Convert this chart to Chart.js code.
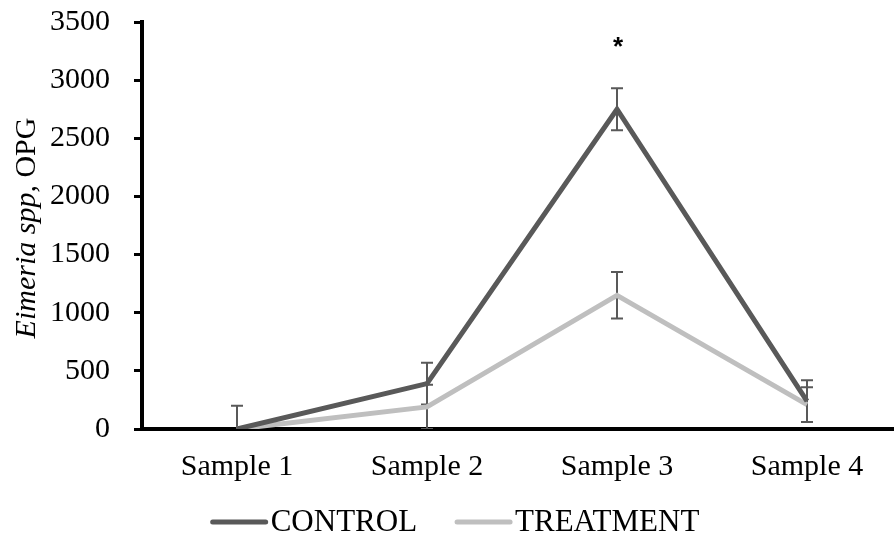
<!DOCTYPE html>
<html>
<head>
<meta charset="utf-8">
<script src="https://cdn.jsdelivr.net/npm/chart.js@4.4.1/dist/chart.umd.min.js"></script>
<style>
  html, body { margin: 0; padding: 0; background: #fff; overflow: hidden; }
  canvas { display: block; }
</style>
</head>
<body>
<canvas id="ctx" width="904" height="540"></canvas>
<script>
"use strict";

const sampleLabels = ["Sample 1", "Sample 2", "Sample 3", "Sample 4"];
const controlValues = [0, 390, 2750, 240];
const controlErrors = [200, 180, 180, 180];
const treatmentValues = [0, 190, 1150, 210];
const treatmentErrors = [0, 190, 200, 150];
const significance = ["", "", "*", ""];
const yMin = 0;
const yMax = 3500;
const yStep = 500;

const serif = "'Liberation Serif', 'Times New Roman', serif";
const darkGrey = "#595959";
const lightGrey = "#bfbfbf";

// error bars sit under the lines, clipped to the plot like in the sheet
const errorBars = {
  id: "errorBars",
  beforeDatasetsDraw(chart) {
    let ctx = chart.ctx;
    let area = chart.chartArea;
    let x = chart.scales.x;
    let y = chart.scales.y;
    ctx.save();
    ctx.beginPath();
    ctx.rect(area.left, area.top - 30, area.right - area.left, area.bottom - area.top + 30);
    ctx.clip();
    ctx.strokeStyle = darkGrey;
    ctx.lineWidth = 2;
    chart.data.datasets.forEach((ds) => {
      ds.data.forEach((v, i) => {
        let err = ds.errors[i];
        if (!err) return;
        let px = x.getPixelForValue(i);
        let top = y.getPixelForValue(v + err);
        let bot = y.getPixelForValue(v - err);
        ctx.beginPath();
        ctx.moveTo(px, top);
        ctx.lineTo(px, bot);
        ctx.moveTo(px - 6, top);
        ctx.lineTo(px + 6, top);
        ctx.moveTo(px - 6, bot);
        ctx.lineTo(px + 6, bot);
        ctx.stroke();
      });
    });
    ctx.restore();
  },
  afterDatasetsDraw(chart) {
    let ctx = chart.ctx;
    let x = chart.scales.x;
    let y = chart.scales.y;
    ctx.save();
    ctx.fillStyle = "#000";
    ctx.font = "bold 26px 'Liberation Sans', Arial, sans-serif";
    ctx.textAlign = "center";
    ctx.textBaseline = "middle";
    significance.forEach((mark, i) => {
      if (!mark) return;
      let top = Math.max(controlValues[i] + controlErrors[i], treatmentValues[i] + treatmentErrors[i]);
      ctx.fillText(mark, x.getPixelForValue(i) + 1, y.getPixelForValue(top) - 40);
    });
    ctx.restore();
  }
};

// y title mixes italic genus name with plain unit
const yTitle = {
  id: "yTitle",
  afterDraw(chart) {
    let ctx = chart.ctx;
    let parts = [
      { text: "Eimeria spp,", font: "italic 30px " + serif },
      { text: " OPG", font: "30px " + serif }
    ];
    let total = 0;
    parts.forEach((p) => {
      ctx.font = p.font;
      p.w = ctx.measureText(p.text).width;
      total += p.w;
    });
    ctx.save();
    ctx.translate(35, 228);
    ctx.rotate(-Math.PI / 2);
    ctx.fillStyle = "#000";
    ctx.textBaseline = "alphabetic";
    ctx.textAlign = "left";
    let pos = -total / 2;
    parts.forEach((p) => {
      ctx.font = p.font;
      ctx.fillText(p.text, pos, 0);
      pos += p.w;
    });
    ctx.restore();
  }
};

// legend: line sample butted right against the label, Excel style
const lineLegend = {
  id: "lineLegend",
  afterDraw(chart) {
    let ctx = chart.ctx;
    let font = "31px " + serif;
    let sample = 57, gap = 3, itemGap = 38, cy = 522;
    ctx.save();
    ctx.font = font;
    let items = chart.data.datasets.map((ds) => ({
      label: ds.label,
      color: ds.borderColor,
      w: ctx.measureText(ds.label).width
    }));
    let total = items.reduce((s, it) => s + sample + gap + it.w, 0) + itemGap * (items.length - 1);
    let x = 455 - total / 2;
    ctx.textBaseline = "middle";
    ctx.textAlign = "left";
    items.forEach((it) => {
      ctx.strokeStyle = it.color;
      ctx.lineWidth = 5;
      ctx.lineCap = "round";
      ctx.beginPath();
      ctx.moveTo(x + 2, cy);
      ctx.lineTo(x + sample - 2, cy);
      ctx.stroke();
      x += sample + gap;
      ctx.fillStyle = "#000";
      ctx.fillText(it.label, x, cy + 1);
      x += it.w + itemGap;
    });
    ctx.restore();
  }
};

let ctx = document.getElementById("ctx").getContext("2d");
const myChart = new Chart(ctx, {
  type: "line",
  data: {
    labels: sampleLabels,
    datasets: [
      {
        label: "CONTROL",
        data: controlValues,
        errors: controlErrors,
        borderColor: darkGrey,
        backgroundColor: darkGrey,
        borderWidth: 5,
        pointRadius: 0,
        tension: 0
      },
      {
        label: "TREATMENT",
        data: treatmentValues,
        errors: treatmentErrors,
        borderColor: lightGrey,
        backgroundColor: lightGrey,
        borderWidth: 5,
        pointRadius: 0,
        tension: 0
      }
    ]
  },
  options: {
    responsive: false,
    animation: false,
    devicePixelRatio: 1,
    layout: { padding: { top: 0, left: 0, right: 2, bottom: 36 } },
    plugins: {
      tooltip: { enabled: false },
      legend: { display: false }
    },
    scales: {
      x: {
        offset: true,
        grid: { display: false, drawTicks: false },
        border: { display: true, color: "#000", width: 4 },
        ticks: { color: "#000", font: { family: serif, size: 30 }, padding: 20 },
        afterFit(scale) { scale.height = 75; }
      },
      y: {
        min: yMin,
        max: yMax,
        ticks: {
          stepSize: yStep,
          color: "#000",
          font: { family: serif, size: 30 },
          padding: 4,
          callback: (v) => String(v)
        },
        // long tick slot keeps labels clear of the axis, only the part next to the axis is inked
        grid: {
          drawOnChartArea: false,
          drawTicks: true,
          tickLength: 28,
          tickBorderDash: [8, 20],
          tickBorderDashOffset: 8,
          color: "#000",
          lineWidth: 3
        },
        border: { display: true, color: "#000", width: 4 },
        afterFit(scale) { scale.width = 142; }
      }
    }
  },
  plugins: [errorBars, yTitle, lineLegend]
});
</script>
</body>
</html>
